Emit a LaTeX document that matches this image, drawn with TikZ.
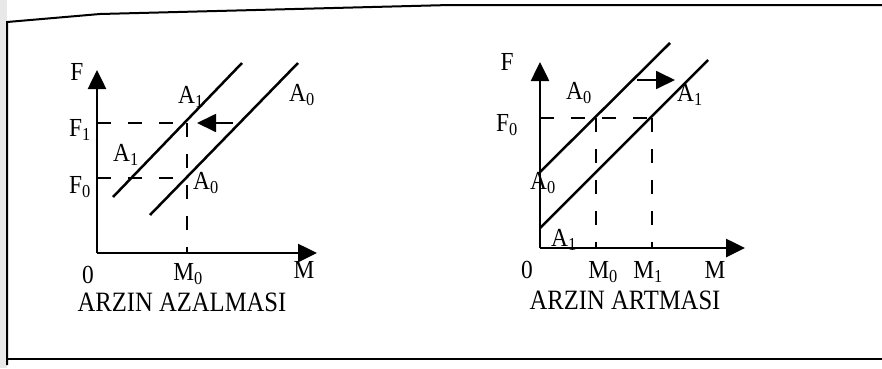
\documentclass[tikz,border=0pt]{standalone}
\usepackage{fontspec}
\setmainfont{Liberation Serif}
\usetikzlibrary{arrows.meta}

\begin{document}
\begin{tikzpicture}[x=1pt,y=-1pt,
  axisline/.style={line width=2.6pt,-{Triangle[length=19pt,width=18pt]}},
  supply/.style={line width=2.5pt},
  guide/.style={line width=1.6pt,dash pattern=on 14pt off 17pt},
  shiftarrow/.style={line width=1.8pt,-{Triangle[length=19pt,width=18pt]}},
  frameline/.style={line width=2pt},
  lbl/.style={inner sep=0pt,xscale=0.9,transform shape,font=\fontsize{26}{28}\selectfont},
  titletext/.style={inner sep=0pt,xscale=0.88,transform shape,font=\fontsize{28}{30}\selectfont}
]
\useasboundingbox (0,0) rectangle (882,368);
% scan frame
\fill[gray!18] (0,0) rectangle (7,368);
\coordinate (fl1) at (7,365);
\coordinate (fl2) at (7,22);
\coordinate (ft1) at (100,14);
\coordinate (ft2) at (450,5);
\coordinate (ft3) at (882,5);
\coordinate (fb) at (882,359);
\draw[frameline] (fl1) -- (fl2) -- (ft1) -- (ft2) -- (ft3);
\draw[frameline] (7,359) -- (fb);

% left panel: supply decrease
\coordinate (o1) at (97,253);
\coordinate (fy1) at (97,70);
\coordinate (mx1) at (317,253);
\coordinate (a1s) at (113,197);
\coordinate (a1e) at (242,63);
\coordinate (a0s) at (150,215);
\coordinate (a0e) at (298,63);
\coordinate (f1l) at (97,123);
\coordinate (f0l) at (97,178);
\coordinate (p1) at (187,123);
\coordinate (p0) at (187,178);
\coordinate (m0l) at (187,253);
\coordinate (shl) at (233,123);
\coordinate (shlt) at (197,123);
\draw[guide] (f1l) -- (p1);
\draw[guide] (f0l) -- (p0);
\draw[guide] (p1) -- (m0l);
\draw[axisline] (o1) -- (fy1);
\draw[axisline] (o1) -- (mx1);
\draw[supply] (a1s) -- (a1e);
\draw[supply] (a0s) -- (a0e);
\draw[shiftarrow] (shl) -- (shlt);
\node[lbl] (lf) at (77,72) {F};
\node[lbl] (lf1) at (80,130) {F\textsubscript{1}};
\node[lbl] (lf0) at (80,187) {F\textsubscript{0}};
\node[lbl] (la1t) at (191,97) {A\textsubscript{1}};
\node[lbl] (la0t) at (302,95) {A\textsubscript{0}};
\node[lbl] (la1l) at (126,155) {A\textsubscript{1}};
\node[lbl] (la0b) at (206,183) {A\textsubscript{0}};
\node[lbl] (lo1) at (88,275) {0};
\node[lbl] (lm0) at (188,274) {M\textsubscript{0}};
\node[lbl] (lm) at (304,270) {M};
\node[titletext] (tl) at (182,302) {ARZIN AZALMASI};

% right panel: supply increase
\coordinate (o2) at (540,248);
\coordinate (fy2) at (540,62);
\coordinate (mx2) at (745,248);
\coordinate (b0s) at (540,172);
\coordinate (b0e) at (670,43);
\coordinate (b1s) at (540,228);
\coordinate (b1e) at (708,60);
\coordinate (f0r) at (540,118);
\coordinate (q0) at (596,118);
\coordinate (q1) at (652,118);
\coordinate (m0r) at (596,248);
\coordinate (m1r) at (652,248);
\coordinate (shr) at (637,80);
\coordinate (shrt) at (675,80);
\draw[guide] (f0r) -- (q1);
\draw[guide] (q0) -- (m0r);
\draw[guide] (q1) -- (m1r);
\draw[axisline] (o2) -- (fy2);
\draw[axisline] (o2) -- (mx2);
\draw[supply] (b0s) -- (b0e);
\draw[supply] (b1s) -- (b1e);
\draw[shiftarrow] (shr) -- (shrt);
\node[lbl] (rf) at (507,62) {F};
\node[lbl] (rf0) at (507,125) {F\textsubscript{0}};
\node[lbl] (ra0t) at (579,93) {A\textsubscript{0}};
\node[lbl] (ra1r) at (690,95) {A\textsubscript{1}};
\node[lbl] (ra0a) at (543,183) {A\textsubscript{0}};
\node[lbl] (ra1b) at (564,240) {A\textsubscript{1}};
\node[lbl] (ro2) at (527,270) {0};
\node[lbl] (rm0) at (603,272) {M\textsubscript{0}};
\node[lbl] (rm1) at (648,272) {M\textsubscript{1}};
\node[lbl] (rm) at (715,270) {M};
\node[titletext] (tr) at (625,300) {ARZIN ARTMASI};
\end{tikzpicture}
\end{document}
